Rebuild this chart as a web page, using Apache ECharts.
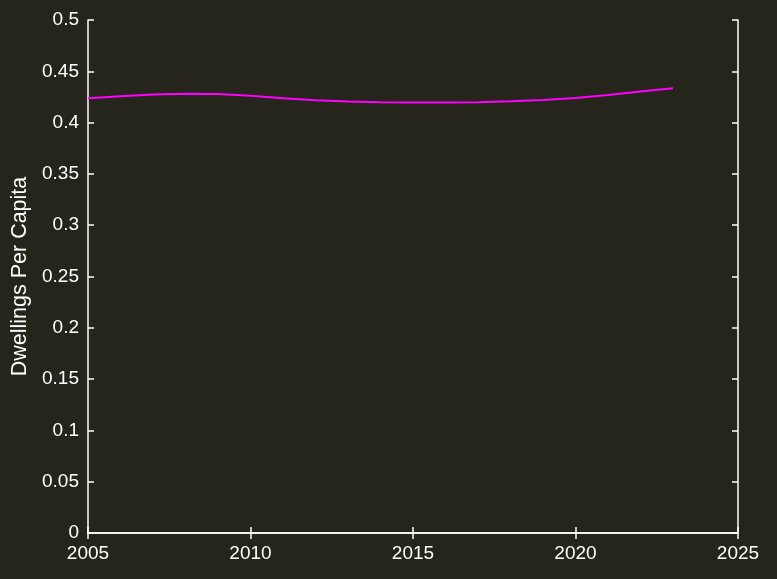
<!DOCTYPE html>
<html>
<head>
<meta charset="utf-8">
<script src="https://cdn.jsdelivr.net/npm/echarts@6/dist/echarts.min.js"></script>
<style>html,body{margin:0;padding:0;background:#26251c;}#c{width:777px;height:579px;}</style>
</head>
<body>
<div id="c"></div>
<script>
const years = [2005,2006,2007,2008,2009,2010,2011,2012,2013,2014,2015,2016,2017,2018,2019,2020,2021,2022,2023];
const dwellingsPerCapita = [0.4237,0.4258,0.4273,0.4281,0.4278,0.4262,0.4238,0.4218,0.4205,0.4199,0.4197,0.4196,0.4199,0.4207,0.4220,0.4240,0.4270,0.4303,0.4334];
const xTickLabels = ['2005','2010','2015','2020','2025'];
const yTickLabels = ['0','0.05','0.1','0.15','0.2','0.25','0.3','0.35','0.4','0.45','0.5'];
const yLabel = 'Dwellings Per Capita';

const chart = echarts.init(document.getElementById('c'), null, {renderer:'canvas'});
const font = 'Liberation Sans, Arial, sans-serif';
const axisCommon = {
  axisLine:{show:true, lineStyle:{color:'#ffffff', width:1.5}},
  axisTick:{show:true, inside:true, length:6, lineStyle:{color:'#ffffff', width:1.5}},
  splitLine:{show:false}
};
chart.setOption({
  backgroundColor:'#26251c',
  animation:false,
  grid:{left:88, right:39, top:20, bottom:46, containLabel:false, outerBoundsMode:'none'},
  xAxis:[
    Object.assign({type:'value', min:2005, max:2025, interval:5, position:'bottom',
      axisLabel:{color:'#ffffff', fontSize:19, fontFamily:font, margin:11,
        formatter:(v)=>{const i=Math.round((v-2005)/5); return xTickLabels[i]!==undefined?xTickLabels[i]:'';}}}, axisCommon),
    Object.assign({type:'value', min:2005, max:2025, interval:5, position:'top',
      axisLabel:{show:false}}, axisCommon)
  ],
  yAxis:[
    Object.assign({type:'value', min:0, max:0.5, interval:0.05, position:'left',
      name:yLabel, nameLocation:'middle', nameGap:53, nameRotate:90,
      nameTextStyle:{color:'#ffffff', fontSize:21.5, fontFamily:font},
      axisLabel:{color:'#ffffff', fontSize:19, fontFamily:font, margin:9,
        formatter:(v)=>{const i=Math.round(v/0.05); return yTickLabels[i]!==undefined?yTickLabels[i]:'';}}}, axisCommon),
    Object.assign({type:'value', min:0, max:0.5, interval:0.05, position:'right',
      axisLabel:{show:false}}, axisCommon)
  ],
  series:[{
    type:'line',
    data:years.map((y,i)=>[y,dwellingsPerCapita[i]]),
    showSymbol:false,
    lineStyle:{color:'#ff00ff', width:2},
    xAxisIndex:0, yAxisIndex:0
  }]
});
</script>
</body>
</html>
